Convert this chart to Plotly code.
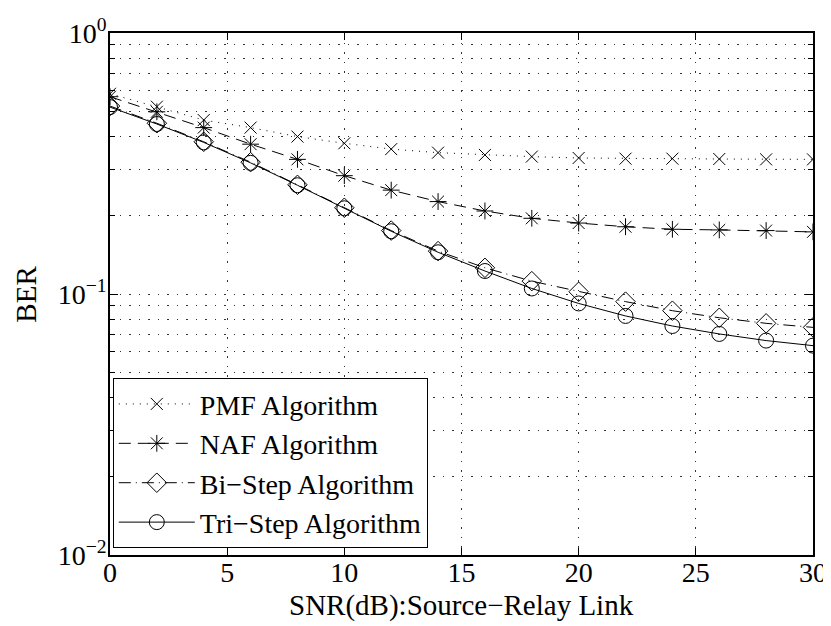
import plotly.graph_objects as go

snr = [0, 2, 4, 6, 8, 10, 12, 14, 16, 18, 20, 22, 24, 26, 28, 30]

ber_pmf = [0.585, 0.522, 0.464, 0.434, 0.401, 0.378, 0.359, 0.348, 0.341, 0.336,
           0.332, 0.330, 0.330, 0.329, 0.328, 0.328]
ber_naf = [0.570, 0.499, 0.434, 0.375, 0.328, 0.284, 0.250, 0.226, 0.208, 0.195,
           0.187, 0.181, 0.177, 0.176, 0.175, 0.173]
ber_bi = [0.525, 0.451, 0.383, 0.320, 0.262, 0.214, 0.175, 0.146, 0.126, 0.112,
          0.102, 0.0935, 0.0863, 0.0811, 0.0772, 0.0745]
ber_tri = [0.520, 0.448, 0.381, 0.318, 0.261, 0.213, 0.174, 0.1445, 0.1225, 0.105,
           0.092, 0.0824, 0.0754, 0.0703, 0.0663, 0.0634]

names = ["PMF Algorithm", "NAF Algorithm", "Bi\u2212Step Algorithm", "Tri\u2212Step Algorithm"]

x_ticks = [0, 5, 10, 15, 20, 25, 30]
y_ticks = [0.01, 0.1, 1]
y_ticktext = ["10<sup>\u22122</sup>", "10<sup>\u22121</sup>", "10<sup>0</sup>"]
y_minor = [m * 10 ** e for e in (-2, -1) for m in range(2, 10)]

FONT = "Liberation Serif, Times New Roman, serif"

fig = go.Figure()
series = [
    (ber_pmf, names[0], "x-thin-open", 12, "1px,6px"),
    (ber_naf, names[1], "asterisk-open", 14, "12px,7px"),
    (ber_bi, names[2], "diamond-open", 15, "12px,5px,1px,5px"),
    (ber_tri, names[3], "circle-open", 15, "solid"),
]
for ys, nm, sym, sz, dash in series:
    fig.add_trace(go.Scatter(
        x=snr, y=ys, name=nm, mode="lines+markers",
        line=dict(color="black", width=1, dash=dash),
        marker=dict(symbol=sym, size=sz, color="black",
                    line=dict(color="black", width=1)),
    ))

GRIDDASH = "1.5px,8px"
grid = dict(showgrid=True, gridcolor="#333333", gridwidth=1, griddash=GRIDDASH)

# page body has an 8px margin, so the figure is drawn 8px in from the top-left
fig.update_layout(
    width=823, height=618,
    margin=dict(l=102, r=18, t=25, b=71),
    paper_bgcolor="white", plot_bgcolor="white",
    font=dict(family=FONT, size=28, color="black"),
    showlegend=True,
    legend=dict(
        x=0.004, y=0.013, xanchor="left", yanchor="bottom",
        bgcolor="white", bordercolor="black", borderwidth=1,
        font=dict(family=FONT, size=28, color="black"),
        itemwidth=76, tracegroupgap=0,
    ),
    xaxis=dict(
        range=[0, 30], tickmode="array", tickvals=x_ticks,
        ticks="inside", ticklen=7, tickcolor="black",
        showline=True, linecolor="black", linewidth=1.5, mirror="allticks",
        zeroline=False, automargin=False, ticklabelstandoff=-8,
        tickfont=dict(family=FONT, size=28),
        **grid,
    ),
    yaxis=dict(
        type="log", range=[-2, 0], tickmode="array", tickvals=y_ticks,
        ticktext=y_ticktext,
        ticks="inside", ticklen=8, tickcolor="black",
        showline=True, linecolor="black", linewidth=1.5, mirror="allticks",
        zeroline=False, automargin=False, ticklabelstandoff=-4,
        tickfont=dict(family=FONT, size=28),
        minor=dict(tickmode="array", tickvals=y_minor, ticks="inside",
                   ticklen=5, tickcolor="black", showgrid=True,
                   gridcolor="#333333", gridwidth=1, griddash=GRIDDASH),
        **grid,
    ),
    annotations=[
        dict(text="SNR(dB):Source\u2212Relay Link", xref="paper", yref="paper",
             x=0.5, y=-0.097, xanchor="center", yanchor="middle",
             showarrow=False, font=dict(family=FONT, size=29)),
        dict(text="BER", xref="paper", yref="paper",
             x=-0.12, y=0.5, xanchor="center", yanchor="middle", textangle=-90,
             showarrow=False, font=dict(family=FONT, size=29)),
    ],
)

fig.write_html("out.html")
